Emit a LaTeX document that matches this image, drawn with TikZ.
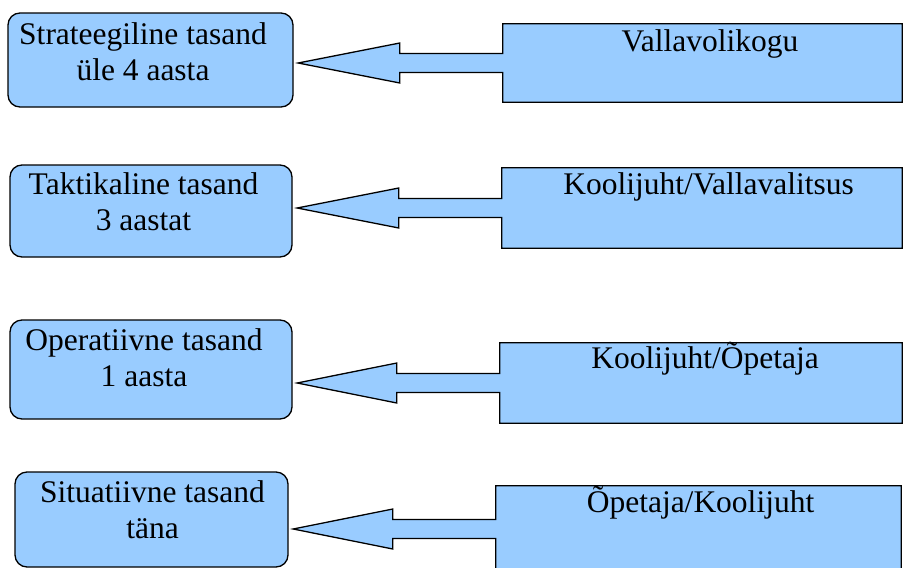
\documentclass[tikz,border=0pt]{standalone}
\usepackage{fontspec}
\setmainfont{Liberation Serif}
\usepackage{color}
\usepackage{tikz}
\usetikzlibrary{calc}
\definecolor{callblue}{RGB}{153,204,255}
\newcommand{\lw}{1.3pt}
\newcommand{\headback}{103}
\newcommand{\tipgap}{4.5}
% callout shape: rectangle #1 with an arrow pointing to box #2
\newcommand{\arrowfrom}[2]{%
  \draw[callshape] (#1.north west) -- (#1.north east) -- (#1.south east) -- (#1.south west)
    -- ($(#1.west)+(0,9.5)$) -- ($(#1.west)+(-\headback,9.5)$) -- ($(#1.west)+(-\headback,20)$)
    -- ($(#2.east |- #1.west)+(\tipgap,0)$)
    -- ($(#1.west)+(-\headback,-20)$) -- ($(#1.west)+(-\headback,-9.5)$)
    -- ($(#1.west)+(0,-9.5)$) -- cycle;}

\begin{document}
\begin{tikzpicture}[x=1pt,y=-1pt,
    levelbox/.style={draw, fill=callblue, line width=\lw, rounded corners=12pt, inner sep=0pt},
    srcbox/.style={inner sep=0pt},
    callshape/.style={draw, fill=callblue, line width=\lw, line join=miter},
    txt/.style={inner sep=0pt, align=center, font=\fontsize{31.5}{36}\selectfont}]
        \clip (0,0) rectangle (903,568);

        \node[levelbox, minimum width=285pt, minimum height=94pt] (lev1) at (150.5,60) {};
        \node[levelbox, minimum width=282pt, minimum height=92pt] (lev2) at (151,211) {};
        \node[levelbox, minimum width=282pt, minimum height=99pt] (lev3) at (151,369.5) {};
        \node[levelbox, minimum width=273pt, minimum height=95pt] (lev4) at (151.5,519.5) {};

        \node[txt, anchor=base] (lev1t) at ($(lev1.north)+(-7.5,68.5)$) {Strateegiline tasand\\üle 4 aasta};
        \node[txt, anchor=base] (lev2t) at ($(lev2.north)+(-7.5,66.5)$) {Taktikaline tasand\\3 aastat};
        \node[txt, anchor=base] (lev3t) at ($(lev3.north)+(-7,67)$) {Operatiivne tasand\\1 aasta};
        \node[txt, anchor=base] (lev4t) at ($(lev4.north)+(1,67)$) {Situatiivne tasand\\täna};

        \node[srcbox, minimum width=399pt, minimum height=78pt] (src1) at (702.5,63) {};
        \node[srcbox, minimum width=400pt, minimum height=80pt] (src2) at (702,208) {};
        \node[srcbox, minimum width=402pt, minimum height=80pt] (src3) at (701,383) {};
        \node[srcbox, minimum width=405pt, minimum height=86pt] (src4) at (698.5,529) {};

        \arrowfrom{src1}{lev1}
        \arrowfrom{src2}{lev2}
        \arrowfrom{src3}{lev3}
        \arrowfrom{src4}{lev4}

        \node[txt, anchor=base] (src1t) at ($(src1.north)+(7.5,27.5)$) {Vallavolikogu};
        \node[txt, anchor=base] (src2t) at ($(src2.north)+(6.5,27)$) {Koolijuht/Vallavalitsus};
        \node[txt, anchor=base] (src3t) at ($(src3.north)+(4,25.5)$) {Koolijuht/Õpetaja};
        \node[txt, anchor=base] (src4t) at ($(src4.north)+(2,27)$) {Õpetaja/Koolijuht};

    \end{tikzpicture}
\end{document}
